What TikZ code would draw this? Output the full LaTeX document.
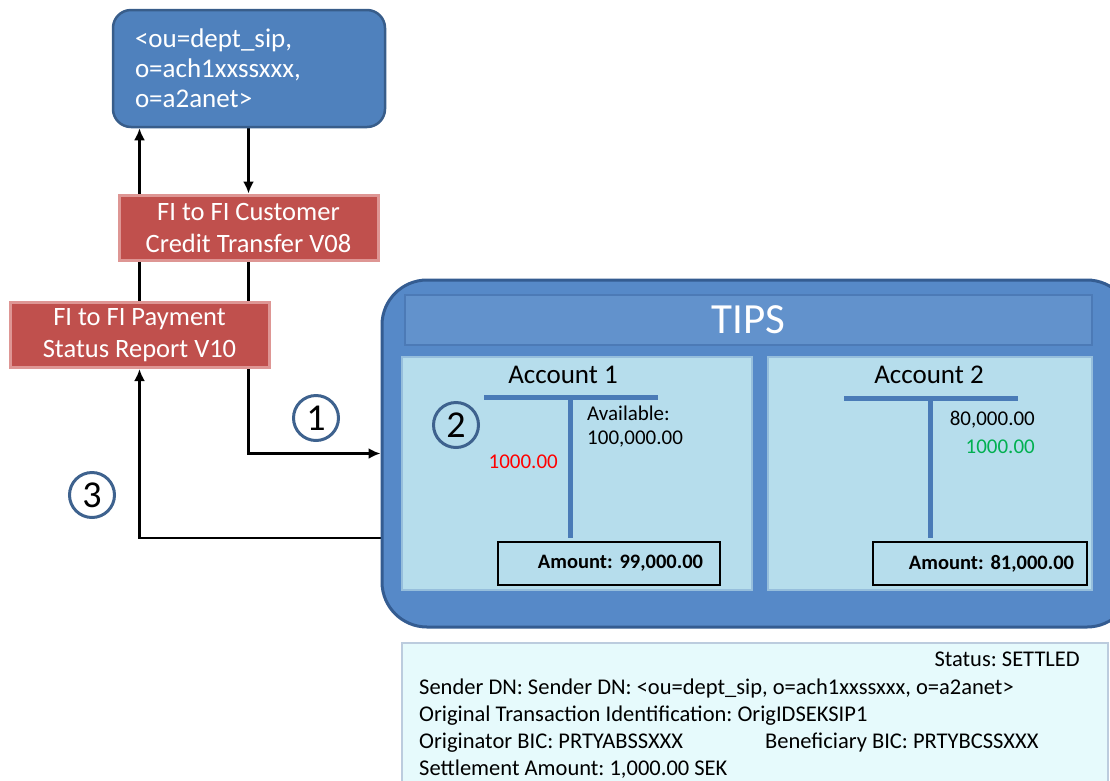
\documentclass[tikz,border=0pt]{standalone}
\usepackage{fontspec}
\setmainfont{Carlito}
\usetikzlibrary{positioning,calc,arrows.meta}
\definecolor{dnfill}{RGB}{79,129,189}
\definecolor{dnborder}{RGB}{56,93,138}
\definecolor{msgred}{RGB}{192,80,77}
\definecolor{msgpink}{RGB}{222,150,148}
\definecolor{tipsfill}{RGB}{86,137,200}
\definecolor{tipsrim}{RGB}{52,92,145}
\definecolor{headfill}{RGB}{98,146,204}
\definecolor{headrim}{RGB}{76,122,182}
\definecolor{accfill}{RGB}{182,221,236}
\definecolor{accrim}{RGB}{150,190,220}
\definecolor{tbarblue}{RGB}{74,123,183}
\definecolor{infofill}{RGB}{230,250,252}
\definecolor{inforim}{RGB}{188,204,222}
\definecolor{circrim}{RGB}{62,98,142}
\definecolor{debitred}{RGB}{255,0,0}
\definecolor{creditgreen}{RGB}{0,176,80}
\pgfdeclarelayer{background}
\pgfsetlayers{background,main}
\tikzset{
  dnbox/.style={draw=dnborder,line width=2.5pt,fill=dnfill,rounded corners=18pt,
    minimum width=272pt,minimum height=117pt,text width=228pt,align=left,
    text=white,font=\fontsize{27}{30}\selectfont},
  msgbox/.style={draw=msgpink,line width=3pt,fill=msgred,minimum width=259pt,
    minimum height=65pt,align=center,text=white,font=\fontsize{26.5}{32}\selectfont},
  tipsbox/.style={draw=tipsrim,line width=3pt,fill=tipsfill,rounded corners=45pt,
    minimum width=750pt,minimum height=347pt},
  tipshead/.style={draw=headrim,line width=2pt,fill=headfill,minimum width=687pt,
    minimum height=50pt,text=white,font=\fontsize{43}{46}\selectfont},
  accbox/.style={draw=accrim,line width=2pt,fill=accfill,minimum height=233pt},
  acctitle/.style={font=\fontsize{27}{30}\selectfont},
  amtbox/.style={draw=black,line width=1.6pt,fill=accfill,minimum height=43pt,
    text width=188pt,align=right,font=\bfseries\fontsize{20.5}{24}\selectfont},
  numcirc/.style={circle,draw=circrim,line width=3pt,minimum size=45pt,inner sep=0pt,
    font=\fontsize{38}{40}\selectfont},
  small/.style={font=\fontsize{21}{24}\selectfont,inner sep=0pt},
  infobox/.style={draw=inforim,line width=2pt,fill=infofill,minimum width=706pt,
    minimum height=145pt},
  infotext/.style={font=\fontsize{22.5}{26}\selectfont,inner sep=0pt},
  flow/.style={line width=2.4pt,black},
  tbar/.style={line width=5pt,tbarblue}
}
\begin{document}
\frenchspacing
\begin{tikzpicture}[x=1pt,y=-1pt,>={Latex[length=12pt,width=11pt]}]
  \useasboundingbox (0,0) rectangle (1110,780);
  % sender and messages
  \node[dnbox] (dn) at (249,68.5) {<ou=dept\_sip,\\o=ach1xxssxxx,\\o=a2anet>};
  \node[msgbox] (credit) at (248.5,227.5) {FI to FI Customer\\Credit Transfer V08};
  \node[msgbox] (report) at (139.5,335) {FI to FI Payment\\Status Report V10};
  % TIPS
  \node[tipsbox] (tips) at (757,453.5) {};
  \node[tipshead] (head) at (748.5,320) {TIPS};
  \node[accbox,minimum width=350pt] (acc1) at (577,473.5) {};
  \node[accbox,minimum width=324pt] (acc2) at (930,473.5) {};
  \node[acctitle] (title1) at (563,375) {Account 1};
  \node[acctitle] (title2) at (929,375) {Account 2};
  \draw[tbar] (484,397) -- (658,397);
  \draw[tbar] (570,397) -- (570,538);
  \draw[tbar] (844,398) -- (1018,398);
  \draw[tbar] (930,398) -- (930,538);
  \node[small,anchor=north west,align=left] (avail) at (587,406) {Available:\\100,000.00};
  \node[small,anchor=east,text=debitred] (debit1) at (558,462) {1000.00};
  \node[small,anchor=east] (bal2) at (1035,420) {80,000.00};
  \node[small,anchor=east,text=creditgreen] (credit2) at (1035,447) {1000.00};
  \node[amtbox,minimum width=222pt] (amt1) at (609,563.5) {Amount: 99,000.00};
  \node[amtbox,minimum width=214pt] (amt2) at (980,563.5) {Amount: 81,000.00};
  % steps
  \node[numcirc] (step1) at (316,418) {1};
  \node[numcirc] (step2) at (456,425) {2};
  \node[numcirc] (step3) at (92,495) {3};
  % status details
  \node[infobox] (info) at (755,715.5) {};
  \node[infotext,anchor=base east] (status) at (1080,666) {Status: SETTLED};
  \node[infotext,anchor=base west] (sender) at (419,694) {Sender DN: Sender DN: <ou=dept\_sip, o=ach1xxssxxx, o=a2anet>};
  \node[infotext,anchor=base west] (origid) at (419,721) {Original Transaction Identification: OrigIDSEKSIP1};
  \node[infotext,anchor=base west] (origbic) at (419,748) {Originator BIC: PRTYABSSXXX};
  \node[infotext,anchor=base west] (benbic) at (765,748) {Beneficiary BIC: PRTYBCSSXXX};
  \node[infotext,anchor=base west] (amount) at (419,775) {Settlement Amount: 1,000.00 SEK};
  % connectors
  \coordinate (back) at ($(tips.west)+(0,84.5)$);
  \begin{pgfonlayer}{background}
    \draw[flow,->] (credit.north |- dn.south) -- (credit.north);
    \draw[flow,->] (credit.south) |- (tips.west);
    \draw[flow,->] (back) -| (report.south);
    \draw[flow] (report.north) -- (report.north |- credit.south);
    \draw[flow,->] (report.north |- credit.north) -- (report.north |- dn.south);
  \end{pgfonlayer}
\end{tikzpicture}
\end{document}
